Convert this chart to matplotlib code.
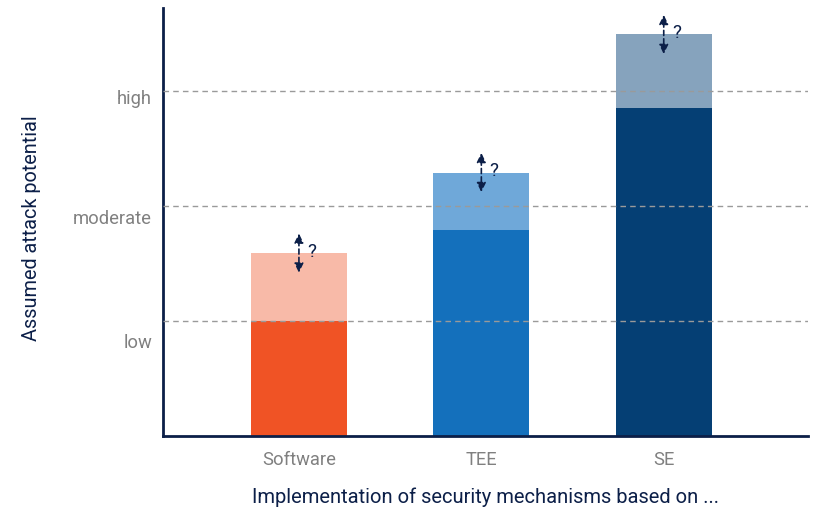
import matplotlib.pyplot as plt

# data
categories = ["Software", "TEE", "SE"]
base_level = [1.0, 1.79, 2.85]
upper_level = [1.59, 2.29, 3.49]
level_names = ["low", "moderate", "high"]
level_label_pos = [0.83, 1.90, 2.95]
level_bounds = [1.0, 2.0, 3.0]

dark_colors = ["#f05325", "#1470bc", "#053f74"]
light_colors = ["#f8baa8", "#6fa8d9", "#86a3bd"]
navy = "#0c1f48"
grey = "#808080"

plt.rcParams["font.family"] = ["Roboto", "DejaVu Sans"]

fig = plt.figure(figsize=(8.16, 5.08), dpi=100)
ax = fig.add_axes([0.1998, 0.1417, 0.7902, 0.8426])

x = list(range(len(categories)))
width = 0.526
extra = [u - b for u, b in zip(upper_level, base_level)]
ax.bar(x, base_level, width=width, color=dark_colors, zorder=2)
ax.bar(x, extra, bottom=base_level, width=width, color=light_colors, zorder=2)

# dashed level boundaries, drawn over the bars
for yb in level_bounds:
    ax.axhline(yb, color="#9a9a9a", linestyle=(0, (4, 3)), linewidth=1.0, zorder=3)

# uncertainty arrows at bar tops
for xi, top in zip(x, upper_level):
    ax.annotate("", xy=(xi, top + 0.17), xytext=(xi, top - 0.17),
                arrowprops=dict(arrowstyle="<|-|>,head_length=0.55,head_width=0.27",
                                color=navy, linestyle=(0, (3, 2)), linewidth=1.2,
                                shrinkA=0, shrinkB=0),
                zorder=4)
    ax.text(xi + 0.045, top + 0.01, "?", color=navy, fontsize=13.5,
            ha="left", va="center", zorder=4)

ax.set_xlim(-0.745, 2.79)
ax.set_ylim(0, 3.72)
ax.set_xticks(x)
ax.set_xticklabels(categories, fontsize=13.2, color=grey)
ax.set_yticks(level_label_pos)
ax.set_yticklabels(level_names, fontsize=13.2, color=grey)
ax.tick_params(length=0, pad=11)
ax.tick_params(axis="y", pad=8)

for side in ["top", "right"]:
    ax.spines[side].set_visible(False)
for side in ["left", "bottom"]:
    ax.spines[side].set_color(navy)
    ax.spines[side].set_linewidth(2)

ax.set_xlabel("Implementation of security mechanisms based on ...",
              fontsize=14.5, color=navy, labelpad=13)
ax.set_ylabel("Assumed attack potential", fontsize=14.3, color=navy)
ax.yaxis.set_label_coords(-0.19, 0.485)

fig.savefig("out.png", dpi=100)
